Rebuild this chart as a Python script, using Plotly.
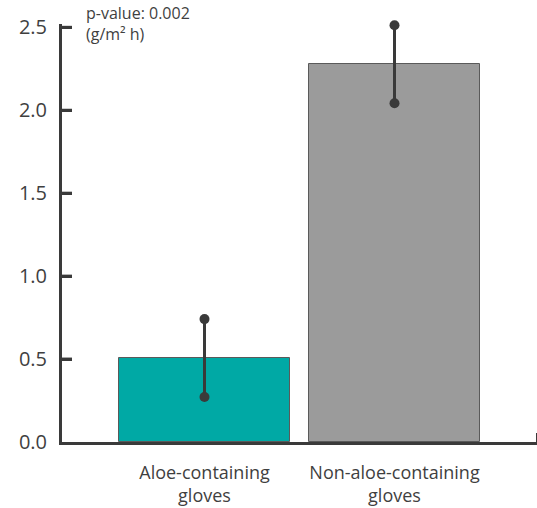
import plotly.graph_objects as go

categories = ["Aloe-containing<br>gloves", "Non-aloe-containing<br>gloves"]
values = [0.506, 2.277]
errors = [0.235, 0.235]
bar_colors = ["#00A9A5", "#9B9B9B"]
y_ticks = [0.0, 0.5, 1.0, 1.5, 2.0, 2.5]
y_tick_labels = ["0.0", "0.5", "1.0", "1.5", "2.0", "2.5"]
annotation_text = "p-value: 0.002<br>(g/m² h)"

positions = list(range(len(categories)))
axis_color = "#3a3a3a"
text_color = "#3f3f3f"
font_family = "Open Sans, Noto Sans, sans-serif"

fig = go.Figure()
fig.add_trace(go.Bar(
    x=positions, y=values, width=0.9,
    marker=dict(color=bar_colors, line=dict(color="#5a5a5a", width=1)),
    showlegend=False, hoverinfo="skip",
))
for p, v, e in zip(positions, values, errors):
    fig.add_trace(go.Scatter(
        x=[p, p], y=[v - e, v + e], mode="lines+markers",
        line=dict(color=axis_color, width=3),
        marker=dict(color=axis_color, size=10),
        cliponaxis=False, showlegend=False, hoverinfo="skip",
    ))

# inward tick marks on the y axis (axis styling, placed at the tick values)
for t in y_ticks[1:]:
    fig.add_shape(type="line", xref="x domain", yref="y",
                  x0=0, x1=0.021, y0=t, y1=t,
                  line=dict(color=axis_color, width=3), layer="above")

fig.update_layout(
    width=537, height=508,
    margin=dict(l=62, r=0, t=24, b=66),
    plot_bgcolor="white", paper_bgcolor="white",
    font=dict(family=font_family, color=text_color),
    bargap=0,
    xaxis=dict(
        range=[-0.75, 1.75],
        tickmode="array", tickvals=positions, ticktext=categories,
        ticks="", showgrid=False, zeroline=False,
        showline=True, linecolor=axis_color, linewidth=3,
        tickfont=dict(size=18, color=text_color),
        ticklabelstandoff=12,
        minor=dict(tickmode="array", tickvals=[1.75], ticks="inside",
                   ticklen=9, tickwidth=3, tickcolor=axis_color, showgrid=False),
        automargin=False,
        fixedrange=True,
    ),
    yaxis=dict(
        range=[0, 2.52],
        tickmode="array", tickvals=y_ticks, ticktext=y_tick_labels,
        ticks="inside", ticklen=10, tickwidth=3, tickcolor=axis_color,
        showgrid=False, zeroline=False,
        showline=True, linecolor=axis_color, linewidth=3,
        tickfont=dict(size=20, color=text_color),
        ticklabelstandoff=8,
        automargin=False,
        fixedrange=True,
    ),
    annotations=[dict(
        text=annotation_text, xref="paper", yref="paper",
        x=0.046, y=1.057, xanchor="left", yanchor="top", align="left",
        showarrow=False, font=dict(size=16, color=text_color),
    )],
)

fig.write_html("out.html", config={"displayModeBar": False},
               post_script="document.body.style.margin='0';")
